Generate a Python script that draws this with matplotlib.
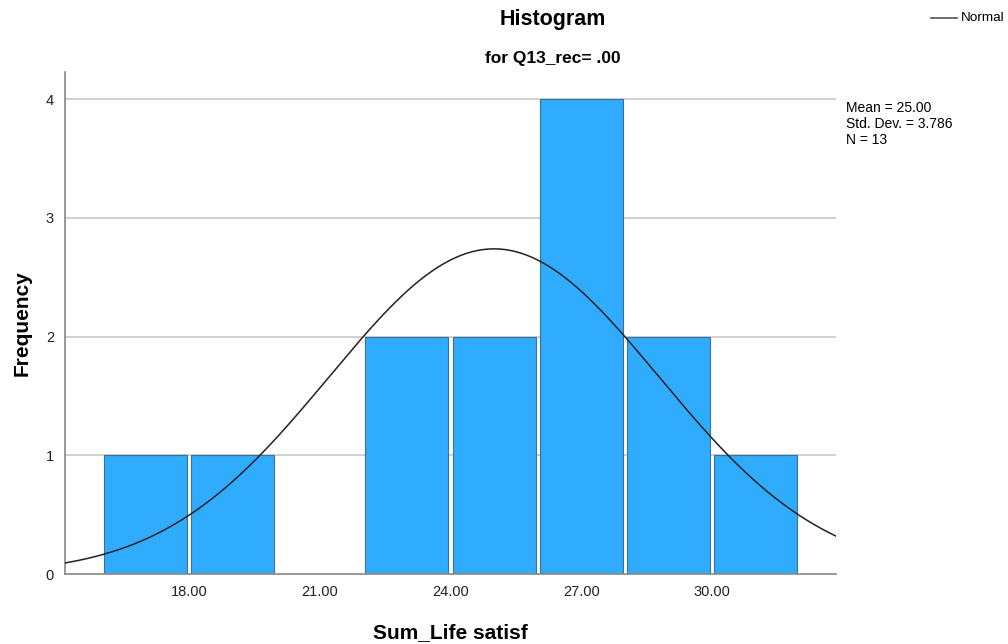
import numpy as np
import matplotlib
matplotlib.use("Agg")
import matplotlib.pyplot as plt

plt.rcParams['font.family'] = ['Liberation Sans', 'DejaVu Sans']

# histogram data (bin centres, width 2)
bin_centers = [17, 19, 21, 23, 25, 27, 29, 31]
counts = [1, 1, 0, 2, 2, 4, 2, 1]
bin_width = 2
mean_val = 25.00
std_val = 3.786
n_val = 13
xticks = [18, 21, 24, 27, 30]
yticks = [0, 1, 2, 3, 4]

fig = plt.figure(figsize=(10.08, 6.44), dpi=100)
ax = fig.add_axes([65/1008, 1-574/644, (836-65)/1008, (574-72)/644])

for y in yticks[1:]:
    ax.axhline(y, color='#c8c8c8', lw=1.2, zorder=0)

ax.bar(bin_centers, counts, width=bin_width*0.953, align='center',
       color='#30acff', edgecolor='#3f6f92', linewidth=0.8, zorder=2)

xs = np.linspace(15, 33, 400)
ys = n_val * bin_width / (std_val * np.sqrt(2*np.pi)) * np.exp(-0.5*((xs-mean_val)/std_val)**2)
ax.plot(xs, ys, color='#222222', lw=1.1, zorder=3)

ax.set_xlim(15.15, 32.85)
ax.set_ylim(0, 4.23)
ax.set_xticks(xticks)
ax.set_xticklabels(['%.2f' % t for t in xticks], fontsize=10.5, color='#222222')
ax.set_yticks(yticks)
ax.set_yticklabels([str(t) for t in yticks], fontsize=10.5, color='#222222')
ax.tick_params(length=0, pad=8)
ax.tick_params(axis='x', pad=8)
for s in ['top', 'right']:
    ax.spines[s].set_visible(False)
for s in ['left', 'bottom']:
    ax.spines[s].set_color('#888888')
    ax.spines[s].set_linewidth(1.2)

ax.set_xlabel('Sum_Life satisf', fontsize=15, fontweight='bold', labelpad=17)
ax.set_ylabel('Frequency', fontsize=15, fontweight='bold', labelpad=10)

fig.text(553/1008, 1-20/644, 'Histogram', ha='center', va='center', fontsize=15.5, fontweight='bold')
fig.text(553/1008, 1-58/644, 'for Q13_rec= .00', ha='center', va='center', fontsize=12.5, fontweight='bold')

# legend
fig.add_artist(plt.Line2D([931/1008, 957/1008], [1-18/644, 1-18/644], color='#555555', lw=1.2))
fig.text(961/1008, 1-18/644, 'Normal', ha='left', va='center', fontsize=9.7)

fig.text(846/1008, 1-101/644,
         'Mean = %.2f\nStd. Dev. = %.3f\nN = %d' % (mean_val, std_val, n_val),
         ha='left', va='top', fontsize=10, linespacing=1.2)

fig.savefig('out.png', dpi=100)
